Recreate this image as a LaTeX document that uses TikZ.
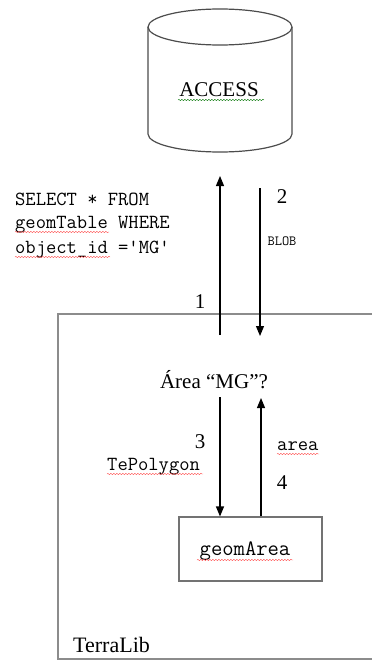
\documentclass[tikz,border=0pt]{standalone}
\usepackage{fontspec}
\setmainfont{Liberation Serif}
\usetikzlibrary{arrows.meta,decorations.pathmorphing}
\begin{document}
\begin{tikzpicture}[x=1pt,y=-1pt,
  flow/.style={line width=1.1pt,-{Triangle[width=8pt,length=10pt]}},
  serif/.style={font=\fontsize{21}{21}\selectfont,inner sep=0pt},
  code/.style={font=\ttfamily\fontsize{20}{20}\selectfont,inner sep=0pt,anchor=base west},
  small code/.style={font=\ttfamily\fontsize{14}{14}\selectfont,inner sep=0pt},
  frame/.style={draw=black!55,line width=1.1pt},
  squig/.style={decorate,decoration={snake,amplitude=0.7pt,segment length=3pt},line width=0.4pt},
]
\useasboundingbox (0,0) rectangle (372,664);
\clip (0,0) rectangle (372,664);

% database cylinder
\draw[line width=1.2pt,draw=black!70]
  (148,27) -- (148,134) arc[start angle=180,end angle=360,x radius=72pt,y radius=18pt] -- (292,27);
\draw[line width=1.2pt,draw=black!70] (220,27) ellipse[x radius=72pt,y radius=18pt];
\node[serif] (access) at (219,90) {ACCESS};
\draw[squig,draw=green!45!black] (178,100) -- (264,100);

% TerraLib frame
\draw[frame,draw=black!45] (58,314) rectangle (400,659);
\node[serif,font=\fontsize{22}{22}\selectfont,anchor=base west] (terralib) at (73,652) {TerraLib};

% query and answer between TerraLib and the database
\coordinate (q1s) at (220,335);
\coordinate (q1e) at (220,176);
\coordinate (q2s) at (260,188);
\coordinate (q2e) at (260,336);
\draw[flow] (q1s) -- (q1e);
\draw[flow] (q2s) -- (q2e);
\node[serif] (n1) at (200,302) {1};
\node[serif] (n2) at (282,197) {2};
\node[small code] (blob) at (282,241) {BLOB};

\node[code] (sql1) at (15,205) {SELECT * FROM};
\node[code] (sql2) at (15,228) {geomTable WHERE};
\node[code] (sql3) at (15,253) {object\_id ='MG'};
\draw[squig,draw=red!70] (15,232) -- (109,232);
\draw[squig,draw=red!70] (15,257) -- (110,257);

% local question and geometry object
\node[serif] (q) at (214,380) {Área “MG”?};
\node[frame,minimum width=143pt,minimum height=64pt,inner sep=0pt] (geom) at (250.5,549) {};
\node[code,font=\ttfamily\fontsize{22}{22}\selectfont,anchor=base] (geomtxt) at (245,555) {geomArea};
\draw[squig,draw=red!70] (197,560) -- (293,560);

\coordinate (q3) at (220,397);
\coordinate (q4) at (261,398);
\draw[flow] (q3) -- (q3 |- geom.north);
\draw[flow] (q4 |- geom.north) -- (q4);
\node[serif] (n3) at (200,442) {3};
\node[serif] (n4) at (282,483) {4};
\node[code] (tepoly) at (107,470) {TePolygon};
\draw[squig,draw=red!70] (107,474) -- (203,474);
\node[code] (area) at (277,450) {area};
\draw[squig,draw=red!70] (277,454) -- (319,454);
\end{tikzpicture}
\end{document}
